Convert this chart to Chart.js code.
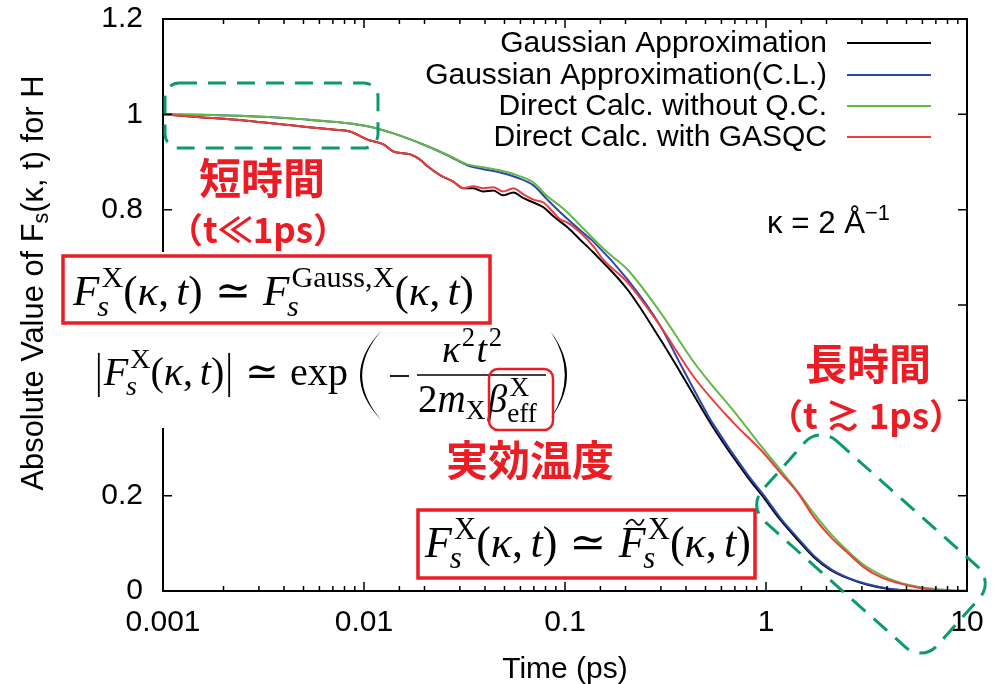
<!DOCTYPE html>
<html>
<head>
<meta charset="utf-8">
<script src="https://cdn.jsdelivr.net/npm/chart.js@4"></script>
<style>
html, body { margin: 0; padding: 0; background: #fff; }
canvas { display: block; }
</style>
</head>
<body>
<canvas id="c" width="993" height="684"></canvas>
<script>
// Self-intermediate scattering function |Fs(kappa,t)| of H, kappa = 2 1/Angstrom
const seriesLabels = ['Gaussian Approximation', 'Gaussian Approximation(C.L.)',
                      'Direct Calc. without Q.C.', 'Direct Calc. with GASQC'];
const seriesColors = ['#000000', '#2b46ad', '#63b847', '#ee3b3b'];

const tGauss = [0.001, 0.00153, 0.00223, 0.0048, 0.0070, 0.0085, 0.0104, 0.0125, 0.014, 0.017, 0.019, 0.0207,
  0.024, 0.0278, 0.0312, 0.035, 0.0392, 0.044, 0.0493, 0.0553, 0.0621, 0.0697, 0.0781, 0.0876, 0.1028, 0.119,
  0.1385, 0.205, 0.299, 0.376, 0.548, 0.81, 0.97, 1.18, 1.44, 1.73, 2.10, 2.55, 3.2, 4.1, 5.4, 10];
const fGauss = [1.000, 0.994, 0.989, 0.975, 0.968, 0.964, 0.947, 0.937, 0.922, 0.916, 0.905, 0.891,
  0.872, 0.859, 0.845, 0.845, 0.838, 0.840, 0.830, 0.836, 0.824, 0.815, 0.805, 0.786, 0.763, 0.737,
  0.710, 0.632, 0.527, 0.458, 0.342, 0.239, 0.197, 0.149, 0.107, 0.071, 0.044, 0.027, 0.013, 0.004, 0.000, 0.000];

const tGaussCL = [0.001, 0.0015, 0.0027, 0.0045, 0.0058, 0.008, 0.0104, 0.014, 0.0207, 0.0269, 0.0326, 0.0392,
  0.0477, 0.058, 0.0697, 0.0817, 0.0949, 0.129, 0.1385, 0.205, 0.299, 0.376, 0.512, 0.548, 0.81, 0.97,
  1.18, 1.44, 1.73, 2.10, 2.55, 3.2, 4.1, 5.4, 10];
const fGaussCL = [1.000, 0.999, 0.996, 0.991, 0.987, 0.982, 0.975, 0.960, 0.933, 0.911, 0.893, 0.885,
  0.878, 0.867, 0.851, 0.821, 0.794, 0.744, 0.733, 0.653, 0.555, 0.475, 0.370, 0.349, 0.244, 0.202,
  0.153, 0.111, 0.074, 0.046, 0.028, 0.014, 0.005, 0.001, 0.000];

const tDirect = [0.001, 0.0015, 0.0027, 0.0045, 0.0058, 0.008, 0.0104, 0.014, 0.0207, 0.0269, 0.0326, 0.0392,
  0.0477, 0.058, 0.0697, 0.0817, 0.0949, 0.1028, 0.129, 0.163, 0.205, 0.299, 0.436, 0.512, 0.69, 0.97,
  1.18, 1.44, 1.73, 2.10, 2.55, 3.06, 3.72, 4.52, 5.89, 8.02, 10];
const fDirect = [1.000, 0.999, 0.996, 0.991, 0.987, 0.982, 0.975, 0.960, 0.933, 0.912, 0.895, 0.889,
  0.882, 0.872, 0.857, 0.828, 0.807, 0.794, 0.752, 0.710, 0.674, 0.584, 0.481, 0.443, 0.378, 0.298,
  0.254, 0.208, 0.163, 0.120, 0.084, 0.055, 0.034, 0.019, 0.008, 0.002, 0.001];

const tGASQC = [0.001, 0.00153, 0.00223, 0.0048, 0.0070, 0.0085, 0.0104, 0.0125, 0.014, 0.017, 0.019, 0.0207,
  0.024, 0.0278, 0.0312, 0.035, 0.0392, 0.044, 0.0493, 0.0553, 0.0621, 0.0697, 0.0781, 0.0876, 0.0949, 0.1028,
  0.119, 0.1385, 0.155, 0.205, 0.299, 0.436, 0.667, 0.97, 1.18, 1.44, 1.73, 2.10, 2.55, 3.06, 3.72, 4.52,
  5.89, 8.02, 10];
const fGASQC = [1.000, 0.994, 0.989, 0.975, 0.968, 0.964, 0.947, 0.937, 0.922, 0.916, 0.905, 0.891,
  0.872, 0.859, 0.845, 0.849, 0.845, 0.847, 0.838, 0.845, 0.832, 0.821, 0.815, 0.794, 0.779, 0.773,
  0.752, 0.723, 0.695, 0.647, 0.555, 0.450, 0.359, 0.290, 0.248, 0.206, 0.155, 0.113, 0.080, 0.050, 0.029, 0.017,
  0.006, 0.001, 0.000];

const seriesTimes = [tGauss, tGaussCL, tDirect, tGASQC];
const seriesValues = [fGauss, fGaussCL, fDirect, fGASQC];
const stackOrder = [4, 3, 2, 1];   // GASQC drawn on top, Gaussian at the bottom

const xTickLabels = ['0.001', '0.01', '0.1', '1', '10'];
const yTickLabels = ['0', '0.2', '0.4', '0.6', '0.8', '1', '1.2'];

const SANS = '"Liberation Sans", Arial, sans-serif';
const SERIF = '"Liberation Serif", "DejaVu Serif", serif';
const CJK = '"Noto Sans CJK JP", sans-serif';
const RED = '#ec1c24';
const TEAL = '#0b9a6d';

// ---- tiny rich-text / math typesetter on canvas ----
function rt(ctx, items, size, x, y, draw) {
  let cx = x;
  for (const it of items) {
    if (it.sup || it.sub) {
      const both = it.sup && it.sub;
      let a = 0, b = 0;
      if (it.sup) a = (it.supDx || 0) * size + rt(ctx, it.sup, size * 0.7, cx + (it.supDx || 0) * size, y - size * 0.42, draw);
      if (it.sub) b = (it.subDx || 0) * size + rt(ctx, it.sub, size * 0.7, cx + (it.subDx || 0) * size, y + size * (both ? 0.25 : 0.17), draw);
      cx += Math.max(a, b);
    } else if (it.bar) {
      if (draw) {
        ctx.save();
        ctx.lineWidth = Math.max(1.2, size * 0.045);
        ctx.beginPath();
        ctx.moveTo(cx + size * 0.12, y - size * 0.8);
        ctx.lineTo(cx + size * 0.12, y + size * 0.3);
        ctx.stroke();
        ctx.restore();
      }
      cx += size * 0.24;
    } else if (it.gap !== undefined) {
      cx += it.gap * size;
    } else {
      ctx.font = (it.it ? 'italic ' : '') + (size * (it.sc || 1)) + 'px ' + (it.f || SERIF);
      const w = ctx.measureText(it.t).width;
      if (draw) {
        ctx.fillText(it.t, cx, y);
        if (it.tilde) {
          ctx.save();
          ctx.lineWidth = Math.max(1.2, size * 0.04);
          const tx = cx + w * 0.28, ty = y - size * 0.8, tw = size * 0.4, th = size * 0.06;
          ctx.beginPath();
          ctx.moveTo(tx, ty + th);
          ctx.bezierCurveTo(tx + tw * 0.25, ty - th * 1.5, tx + tw * 0.4, ty - th, tx + tw * 0.5, ty);
          ctx.bezierCurveTo(tx + tw * 0.6, ty + th, tx + tw * 0.75, ty + th * 2.5, tx + tw, ty - th);
          ctx.stroke();
          ctx.restore();
        }
      }
      cx += w;
    }
  }
  return cx - x;
}
function fit(ctx, items, x, y, width) {
  const w = rt(ctx, items, 40, 0, 0, false);
  const size = 40 * width / w;
  rt(ctx, items, size, x, y, true);
  return size;
}
const I = t => ({ t, it: true });
const R = t => ({ t });
const G = g => ({ gap: g });
const SS = (sup, sub, supDx = 0.05, subDx = -0.05) => ({ sup, sub, supDx, subDx });
const Fs = [I('F'), SS([R('X')], [I('s')])];
const arg = [R('('), I('κ'), R(','), G(0.17), I('t'), R(')')];
const rel = [G(0.28), R('≃'), G(0.28)];

const eqShort = [...Fs, ...arg, ...rel, I('F'), SS([R('Gauss,X')], [I('s')]), ...arg];
const eqExpLeft = [{ bar: true }, ...Fs, ...arg, { bar: true }, ...rel, R('exp')];
const eqNum = [I('κ'), { sup: [R('2')], supDx: 0.04 }, G(0.04), I('t'), { sup: [R('2')], supDx: 0.04 }];
const eqDen = [R('2'), I('m'), { sub: [R('X')] }, G(0.06), I('β'), SS([R('X')], [R('eff')], 0.06, 0.0)];
const eqLong = [...Fs, ...arg, ...rel, { t: 'F', it: true, tilde: true }, SS([R('X')], [I('s')]), ...arg];

function paren(ctx, xEnd, xBulge, yTop, yBot) {
  const ym = (yTop + yBot) / 2;
  const d = xEnd < xBulge ? -2.2 : 2.2;
  ctx.beginPath();
  ctx.moveTo(xEnd, yTop);
  ctx.quadraticCurveTo(2 * xBulge - xEnd, ym, xEnd, yBot);
  ctx.quadraticCurveTo(2 * xBulge - xEnd + d * 2, ym, xEnd, yTop);
  ctx.fill();
}

const isDecade = v => Math.abs(Math.log10(v) - Math.round(Math.log10(v))) < 1e-6;

const framePlugin = {
  id: 'frameAndNotes',
  afterDraw(chart) {
    const { ctx, chartArea: a, scales: { x, y } } = chart;
    ctx.save();
    ctx.strokeStyle = '#000';
    ctx.fillStyle = '#000';
    // border
    ctx.lineWidth = 2;
    ctx.strokeRect(a.left, a.top, a.right - a.left, a.bottom - a.top);
    // inward tick marks, mirrored on the opposite side
    ctx.lineWidth = 1.5;
    ctx.beginPath();
    for (const tk of x.ticks) {
      const px = x.getPixelForValue(tk.value);
      const len = isDecade(tk.value) ? 9 : 5;
      ctx.moveTo(px, a.bottom); ctx.lineTo(px, a.bottom - len);
      ctx.moveTo(px, a.top); ctx.lineTo(px, a.top + len);
    }
    for (const tk of y.ticks) {
      const py = y.getPixelForValue(tk.value);
      ctx.moveTo(a.left, py); ctx.lineTo(a.left + 9, py);
      ctx.moveTo(a.right, py); ctx.lineTo(a.right - 9, py);
    }
    ctx.stroke();

    // y-axis title with subscript
    ctx.save();
    ctx.translate(43, 283);
    ctx.rotate(-Math.PI / 2);
    const yt = [{ t: 'Absolute Value of F', f: SANS }, { sub: [{ t: 's', f: SANS }] }, { t: '(κ, t) for H', f: SANS }];
    const w0 = rt(ctx, yt, 30, 0, 0, false);
    const ys = 30 * 415 / w0;
    rt(ctx, yt, ys, -207.5, 0, true);
    ctx.restore();

    // key
    const keyY = [43, 75, 106, 137];
    ctx.font = '30px ' + SANS;
    ctx.textAlign = 'right';
    ctx.textBaseline = 'middle';
    chart.data.datasets.forEach((ds, i) => {
      ctx.fillStyle = '#000';
      ctx.fillText(ds.label, 827, keyY[i] + 1);
      ctx.strokeStyle = ds.borderColor;
      ctx.lineWidth = 2;
      ctx.beginPath();
      ctx.moveTo(847, keyY[i]); ctx.lineTo(931, keyY[i]);
      ctx.stroke();
    });

    // kappa label
    ctx.textAlign = 'left';
    ctx.textBaseline = 'alphabetic';
    ctx.fillStyle = '#000';
    fit(ctx, [{ t: 'κ = 2 Å', f: SANS }, { sup: [{ t: '−1', f: SANS }] }], 767, 233, 123);

    // white panel carrying the formulas
    ctx.fillStyle = '#fff';
    ctx.fillRect(56, 252, 518, 176);

    ctx.fillStyle = '#000';
    ctx.strokeStyle = '#000';
    fit(ctx, eqShort, 73, 305, 401);
    fit(ctx, eqExpLeft, 94, 385, 254);
    paren(ctx, 382, 360, 330, 421);
    ctx.lineWidth = 1.8;
    ctx.beginPath(); ctx.moveTo(390, 376); ctx.lineTo(409, 376); ctx.stroke();
    rt(ctx, eqNum, 38, 442, 362, true);
    ctx.lineWidth = 1.6;
    ctx.beginPath(); ctx.moveTo(417, 375); ctx.lineTo(546, 375); ctx.stroke();
    rt(ctx, eqDen, 39, 418, 412, true);
    paren(ctx, 551, 567, 332, 418);

    ctx.fillStyle = '#fff';
    ctx.fillRect(420, 512, 335, 64);
    ctx.fillStyle = '#000';
    fit(ctx, eqLong, 425, 557, 326);

    // red frames
    ctx.strokeStyle = RED;
    ctx.lineWidth = 3.5;
    ctx.strokeRect(63, 256, 427, 67);
    ctx.strokeRect(418, 510, 337, 68);
    ctx.lineWidth = 2.5;
    ctx.beginPath(); ctx.roundRect(489, 369, 64, 61, 9); ctx.stroke();

    // Japanese notes
    ctx.fillStyle = RED;
    ctx.textAlign = 'center';
    ctx.textBaseline = 'middle';
    ctx.font = 'bold 42px ' + CJK;
    ctx.fillText('短時間', 262, 178);
    ctx.fillText('実効温度', 530, 460);
    ctx.fillText('長時間', 868, 364);
    ctx.font = 'bold 35px ' + CJK;
    ctx.fillText('（t≪1ps）', 258, 230);
    ctx.fillText('（t ≳ 1ps）', 866, 416);

    // dashed outlines
    ctx.strokeStyle = TEAL;
    ctx.lineWidth = 3;
    ctx.setLineDash([18, 11]);
    ctx.beginPath(); ctx.roundRect(165, 83, 213, 65, 14); ctx.stroke();
    ctx.save();
    ctx.translate(871, 544);
    ctx.rotate(41.7 * Math.PI / 180);
    ctx.beginPath(); ctx.roundRect(-117, -54, 234, 108, 22); ctx.stroke();
    ctx.restore();
    ctx.setLineDash([]);
    ctx.restore();
  }
};

new Chart(document.getElementById('c'), {
  type: 'line',
  data: {
    datasets: seriesLabels.map((label, i) => ({
      label,
      data: seriesTimes[i].map((t, k) => ({ x: t, y: seriesValues[i][k] })),
      borderColor: seriesColors[i],
      borderWidth: 2,
      pointRadius: 0,
      fill: false,
      cubicInterpolationMode: 'monotone',
      order: stackOrder[i]
    }))
  },
  options: {
    responsive: false,
    animation: false,
    devicePixelRatio: 1,
    layout: { padding: { top: 19, right: 26, left: 0, bottom: 0 } },
    plugins: { legend: { display: false }, tooltip: { enabled: false } },
    scales: {
      x: {
        type: 'logarithmic',
        min: 0.001, max: 10,
        grid: { display: false, drawTicks: false },
        border: { display: false },
        ticks: {
          autoSkip: false, maxRotation: 0, padding: 14, color: '#000',
          font: { family: SANS, size: 30 },
          callback: v => isDecade(v) ? xTickLabels[Math.round(Math.log10(v)) + 3] : ''
        },
        title: { display: true, text: 'Time (ps)', color: '#000', font: { family: SANS, size: 30 }, padding: { top: 0, bottom: -4 } },
        afterFit: s => { s.height = 93; s.paddingLeft = 0; s.paddingRight = 0; }
      },
      y: {
        min: 0, max: 1.2,
        grid: { display: false, drawTicks: false },
        border: { display: false },
        ticks: {
          stepSize: 0.2, padding: 20, color: '#000',
          font: { family: SANS, size: 30 },
          callback: v => yTickLabels[Math.round(v / 0.2)]
        },
        afterFit: s => { s.width = 163; s.paddingTop = 0; s.paddingBottom = 0; }
      }
    }
  },
  plugins: [framePlugin]
});
</script>
</body>
</html>
